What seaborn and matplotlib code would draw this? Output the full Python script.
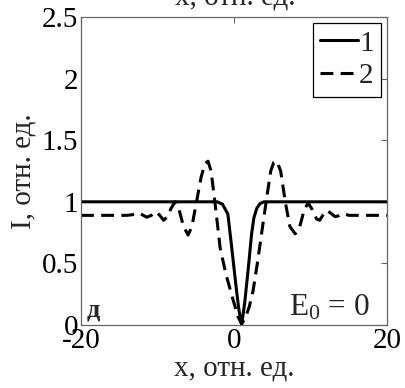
import matplotlib
matplotlib.use("Agg")
import matplotlib.pyplot as plt
import seaborn as sns
import pandas as pd

# ---- data ----
x1 = [-20, -2.2, -1.5, -0.8, -0.3, 0.2, 0.6, 1.0, 1.4, 1.9, 2.3, 2.6, 3.0, 3.4, 3.9, 20]
y1 = [1.0, 1.0, 0.98, 0.90, 0.63, 0.35, 0.14, 0.0, 0.18, 0.48, 0.74, 0.87, 0.95, 0.985, 1.0, 1.0]

x2 = [-20, -14.0, -13.3, -12.6, -12.0, -11.4, -10.8, -10.2, -9.7, -9.2, -8.7, -8.2, -7.7,
      -7.2, -6.6, -6.0, -5.5, -4.9, -4.3, -3.8, -3.4, -3.0, -2.5, -1.8, -1.0, -0.1, 0.5,
      1.0, 1.5, 2.0, 2.5, 3.1, 3.6, 4.2, 4.8, 5.2, 5.6, 6.1, 6.7, 7.3, 8.0, 8.6, 9.2,
      9.7, 10.2, 10.8, 11.2, 11.6, 12.1, 12.6, 13.2, 13.6, 14.3, 15.0, 20]
y2 = [0.89, 0.89, 0.895, 0.91, 0.895, 0.875, 0.89, 0.92, 0.89, 0.85, 0.88, 0.95, 1.0,
      0.94, 0.80, 0.73, 0.80, 1.0, 1.2, 1.31, 1.33, 1.25, 1.0, 0.62, 0.40, 0.20, 0.07,
      0.01, 0.06, 0.15, 0.28, 0.52, 0.74, 1.0, 1.25, 1.32, 1.33, 1.25, 1.0, 0.80, 0.74,
      0.80, 0.94, 0.99, 0.94, 0.86, 0.85, 0.89, 0.93, 0.91, 0.88, 0.885, 0.905, 0.89, 0.89]

series_labels = ["1", "2"]
x_ticks = [-20, 0, 20]
y_ticks = [0, 0.5, 1, 1.5, 2, 2.5]
y_tick_labels = ["0", "0.5", "1", "1.5", "2", "2.5"]
x_label = "x, отн. ед."
y_label = "I, отн. ед."
top_cut_label = "x, отн. ед."
panel_letter = "д"
field_text = r"E$_0$ = 0"

# ---- style ----
sns.set_style("white")
plt.rcParams["font.family"] = ["Liberation Serif", "DejaVu Serif"]
plt.rcParams["mathtext.fontset"] = "custom"
plt.rcParams["mathtext.rm"] = "Liberation Serif"
plt.rcParams["mathtext.it"] = "Liberation Serif"

FS = 21

fig = plt.figure(figsize=(4.06, 3.88), dpi=100)
ax = fig.add_axes([81 / 406, 1 - 325 / 388, 306 / 406, 308 / 388])

df1 = pd.DataFrame({"x": x1, "y": y1})
df2 = pd.DataFrame({"x": x2, "y": y2})
sns.lineplot(data=df1, x="x", y="y", ax=ax, color="black", lw=2.2,
             sort=False, errorbar=None, label=series_labels[0])
sns.lineplot(data=df2, x="x", y="y", ax=ax, color="black", lw=2.2,
             sort=False, errorbar=None, label=series_labels[1])
ax.lines[1].set_dashes((4.2, 2.4))

ax.set_xlim(-20, 20)
ax.set_ylim(0, 2.5)
ax.set_xticks(x_ticks)
ax.set_xticklabels([str(t) for t in x_ticks])
ax.set_yticks(y_ticks)
ax.set_yticklabels(y_tick_labels)
ax.tick_params(direction="in", length=4, width=0.8, colors="#666666",
               labelcolor="black", labelsize=FS, top=True, right=True, pad=2)
for s in ax.spines.values():
    s.set_color("#666666")
    s.set_linewidth(0.9)

ax.set_xlabel(x_label, fontsize=FS, labelpad=1)
ax.set_ylabel(y_label, fontsize=FS, labelpad=4)

leg = ax.legend(loc="upper right", fontsize=FS, frameon=True, fancybox=False,
                framealpha=1, edgecolor="black", handlelength=1.3,
                handletextpad=0.05, borderpad=0.25, labelspacing=0.22,
                borderaxespad=0.2)
leg.get_frame().set_linewidth(0.9)

ax.text(-19.3, 0.03, panel_letter, fontsize=19, fontweight="bold", ha="left", va="bottom")
ax.text(17.8, 0.08, field_text, fontsize=22.5, ha="right", va="baseline")

fig.text(235 / 406, 1 - 5 / 388, top_cut_label, fontsize=FS, ha="center", va="baseline")

fig.savefig("out.png", dpi=100)
